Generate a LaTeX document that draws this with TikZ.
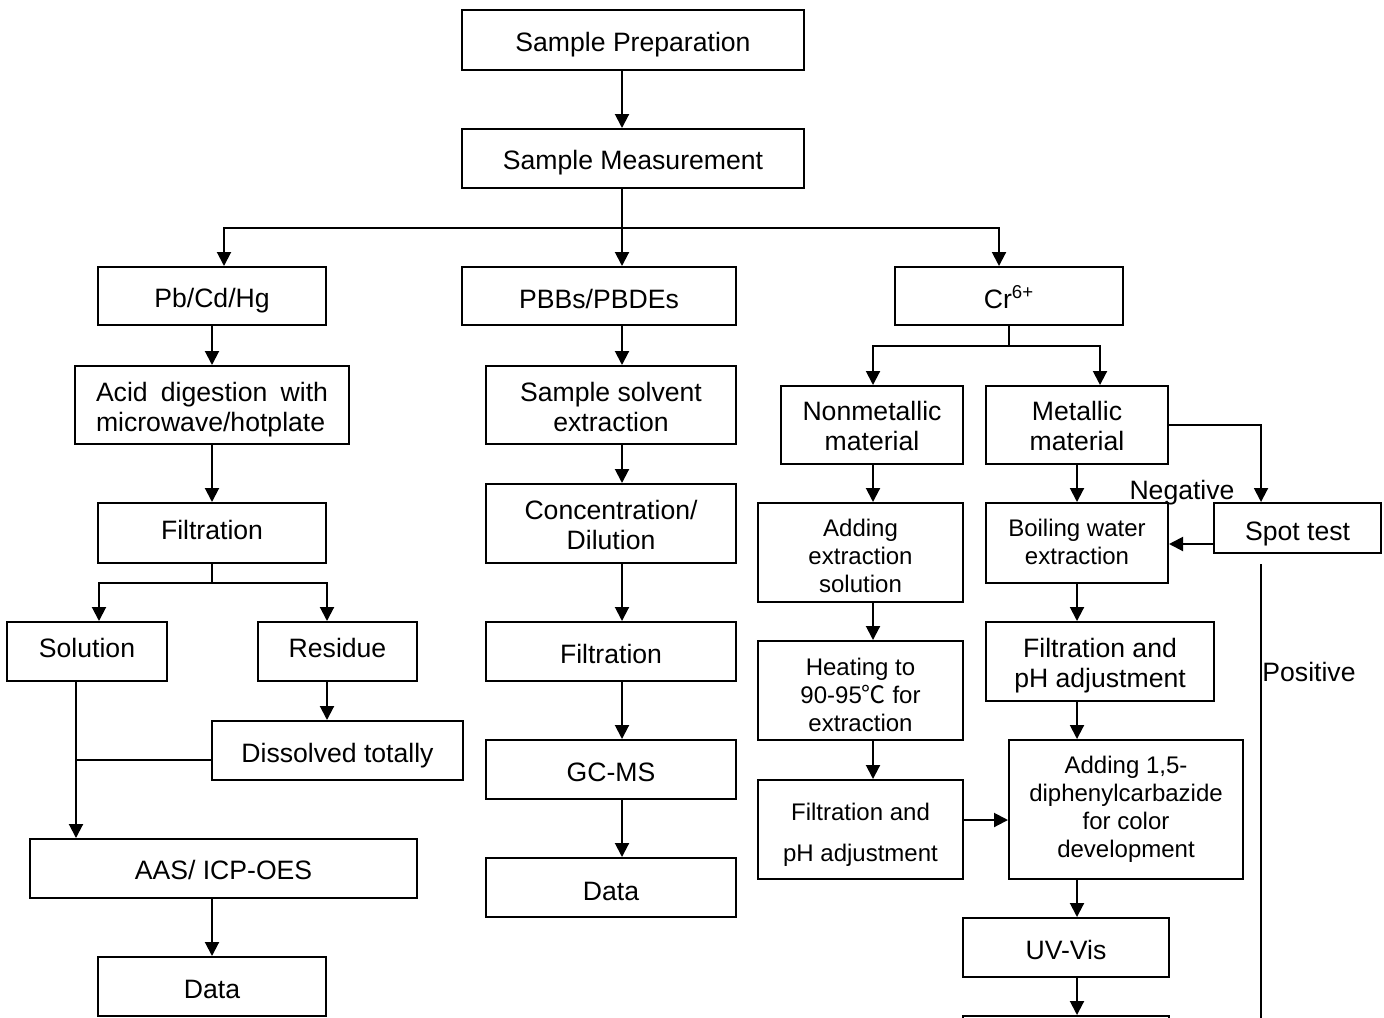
\documentclass[tikz,border=0pt]{standalone}
\usepackage{fontspec}
\setmainfont{Liberation Sans}
\newfontfamily\cjk{Noto Sans CJK SC}
\usetikzlibrary{arrows.meta}
\newcommand\regf{\fontsize{13.3pt}{15pt}\selectfont}
\newcommand\smallf{\fontsize{12pt}{14pt}\selectfont}
\begin{document}
\begin{tikzpicture}[x=0.5pt,y=-0.5pt,
  box/.style={draw, line width=1pt, inner sep=0pt},
  t/.style={align=center, font=\regf, inner sep=0pt},
  st/.style={t, font=\smallf},
  arr/.style={line width=1pt, -{Triangle[length=7pt,width=7pt]}},
  ln/.style={line width=1pt},
  lbl/.style={inner sep=0pt, font=\regf}]
\clip (0,0) rectangle (1384,1017);
\useasboundingbox (0,0) rectangle (1384,1017);
\fill[white] (0,0) rectangle (1384,1017);

% top
\node[box, minimum width=171pt, minimum height=30pt, label={[t,yshift=-2.5pt]center:Sample Preparation}] (sp) at (633,40) {};
\node[box, minimum width=171pt, minimum height=29.5pt, label={[t,yshift=-2pt]center:Sample Measurement}] (sm) at (633,158.5) {};
\node[box, minimum width=114pt, minimum height=29pt, label={[t,yshift=-2.5pt]center:Pb/Cd/Hg}] (pb) at (212,296) {};
\node[box, minimum width=137pt, minimum height=29pt, label={[t,yshift=-1.5pt]center:PBBs/PBDEs}] (pbb) at (599,296) {};
\node[box, minimum width=114pt, minimum height=29pt, label={[t,yshift=-0.5pt]center:{Cr\textsuperscript{6+}}}] (cr) at (1009,296) {};

% left column
\node[box, minimum width=137pt, minimum height=39pt,
  label={[t, text width=116pt, align=left, yshift=-2.5pt]center:{Acid\hfill digestion\hfill with\\microwave/hotplate}}] (acid) at (212,405) {};
\node[box, minimum width=114pt, minimum height=30pt, label={[t,yshift=1.5pt]center:Filtration}] (f1) at (212,533) {};
\node[box, minimum width=80pt, minimum height=29.5pt, label={[t,yshift=2pt]center:Solution}] (sol) at (87,651.5) {};
\node[box, minimum width=79.5pt, minimum height=29.5pt, label={[t,yshift=2pt]center:Residue}] (res) at (337.5,651.5) {};
\node[box, minimum width=125.5pt, minimum height=29.5pt, label={[t,yshift=-2.5pt]center:Dissolved totally}] (diss) at (337.5,750.5) {};
\node[box, minimum width=193.5pt, minimum height=29.5pt, label={[t,yshift=-0.5pt]center:AAS/ ICP-OES}] (aas) at (223.5,868.5) {};
\node[box, minimum width=114pt, minimum height=29.5pt, label={[t,yshift=-1.5pt]center:Data}] (d1) at (212,986.5) {};

% middle column
\node[box, minimum width=125pt, minimum height=39pt, label={[t,yshift=-1pt]center:{Sample solvent\\extraction}}] (sse) at (611,405) {};
\node[box, minimum width=125pt, minimum height=39.5pt, label={[t,yshift=-0.5pt]center:{Concentration/\\Dilution}}] (conc) at (611,523.5) {};
\node[box, minimum width=125pt, minimum height=29.5pt, label={[t,yshift=-1pt]center:Filtration}] (f2) at (611,651.5) {};
\node[box, minimum width=125pt, minimum height=29.5pt, label={[t,yshift=-1.5pt]center:GC-MS}] (gc) at (611,769.5) {};
\node[box, minimum width=125pt, minimum height=29.5pt, label={[t,yshift=-2pt]center:Data}] (d2) at (611,887.5) {};

% right part
\node[box, minimum width=91pt, minimum height=39pt, label={[t,yshift=-0.5pt]center:{Nonmetallic\\material}}] (nonm) at (872,425) {};
\node[box, minimum width=91pt, minimum height=39pt, label={[t,yshift=-0.5pt]center:{Metallic\\material}}] (metal) at (1077,425) {};
\node[box, minimum width=102.5pt, minimum height=49.5pt, label={[st,yshift=-1.5pt]center:{Adding\\extraction\\solution}}] (addext) at (860.5,552.5) {};
\node[box, minimum width=102.5pt, minimum height=49.5pt, label={[st,yshift=-2pt]center:{Heating to\\90-95{\cjk ℃} for\\extraction}}] (heat) at (860.5,690.5) {};
\node[box, minimum width=102.5pt, minimum height=49.5pt, label={[st,yshift=-2.5pt]center:{Filtration and\\[6.5pt]pH adjustment}}] (fp1) at (860.5,829.5) {};
\node[box, minimum width=83.5pt, minimum height=25pt, label={[t,yshift=-3pt]center:Spot test}] (spot) at (1297.5,528) {};
\node[box, minimum width=91pt, minimum height=40pt, label={[st,yshift=0.5pt]center:{Boiling water\\extraction}}] (boil) at (1077,543) {};
\node[box, minimum width=114pt, minimum height=39.5pt, label={[t,yshift=-2pt]center:{Filtration and\\pH adjustment}}] (fp2) at (1100,661.5) {};
\node[box, minimum width=117pt, minimum height=69.5pt, label={[st]center:{Adding 1,5-\\diphenylcarbazide\\for color\\development}}] (add15) at (1126,809.5) {};
\node[box, minimum width=103pt, minimum height=29.5pt, label={[t,yshift=-1pt]center:UV-Vis}] (uv) at (1066,947.5) {};
\node[box, minimum width=103pt, minimum height=29.5pt] (last) at (1066,1045.5) {};

\node[lbl] (neg) at (1182,493) {Negative};
\node[lbl] (pos) at (1309,672) {Positive};

% helper coordinates
\coordinate (b1) at (622,228);
\coordinate (xa) at (224,0);
\coordinate (xc) at (999,0);
\coordinate (b2) at (212,583);
\coordinate (xs) at (99,0);
\coordinate (xr) at (327,0);
\coordinate (xl) at (76,0);
\coordinate (yd) at (0,760);
\coordinate (xm) at (622,0);
\coordinate (b3) at (1009,346);
\coordinate (xn) at (873,0);
\coordinate (xt) at (1100,0);
\coordinate (xk) at (1077,0);
\coordinate (xp) at (1261,0);
\coordinate (ys) at (0,544);
\coordinate (yf) at (0,820);
\coordinate (pa) at (1261,564);
\coordinate (pe) at (1261,1030);

% top connectors
\draw[arr] (sp.south -| b1) -- (sm.north -| b1);
\draw[ln] (sm.south -| b1) -- (b1);
\draw[arr] (b1) -| (xa |- pb.north);
\draw[arr] (b1) -- (b1 |- pbb.north);
\draw[arr] (b1) -| (xc |- cr.north);

% left connectors
\draw[arr] (pb.south) -- (acid.north);
\draw[arr] (acid.south) -- (f1.north);
\draw[ln] (f1.south) -- (b2);
\draw[arr] (b2) -| (xs |- sol.north);
\draw[arr] (b2) -| (xr |- res.north);
\draw[arr] (xl |- sol.south) -- (xl |- aas.north);
\draw[arr] (xr |- res.south) -- (xr |- diss.north);
\draw[ln] (diss.west |- yd) -- (xl |- yd);
\draw[arr] (d1.north |- aas.south) -- (d1.north);

% middle connectors
\draw[arr] (xm |- pbb.south) -- (xm |- sse.north);
\draw[arr] (xm |- sse.south) -- (xm |- conc.north);
\draw[arr] (xm |- conc.south) -- (xm |- f2.north);
\draw[arr] (xm |- f2.south) -- (xm |- gc.north);
\draw[arr] (xm |- gc.south) -- (xm |- d2.north);

% right connectors
\draw[ln] (cr.south) -- (b3);
\draw[arr] (b3) -| (xn |- nonm.north);
\draw[arr] (b3) -| (xt |- metal.north);
\draw[arr] (metal.east) -| (xp |- spot.north);
\draw[arr] (xk |- metal.south) -- (xk |- boil.north);
\draw[arr] (spot.west |- ys) -- (boil.east |- ys);
\draw[arr] (xk |- boil.south) -- (xk |- fp2.north);
\draw[arr] (xk |- fp2.south) -- (xk |- add15.north);
\draw[arr] (xk |- add15.south) -- (xk |- uv.north);
\draw[arr] (xk |- uv.south) -- (xk |- last.north);
\draw[arr] (xn |- nonm.south) -- (xn |- addext.north);
\draw[arr] (xn |- addext.south) -- (xn |- heat.north);
\draw[arr] (xn |- heat.south) -- (xn |- fp1.north);
\draw[arr] (fp1.east |- yf) -- (add15.west |- yf);
\draw[ln] (pa) -- (pe);
\end{tikzpicture}
\end{document}
